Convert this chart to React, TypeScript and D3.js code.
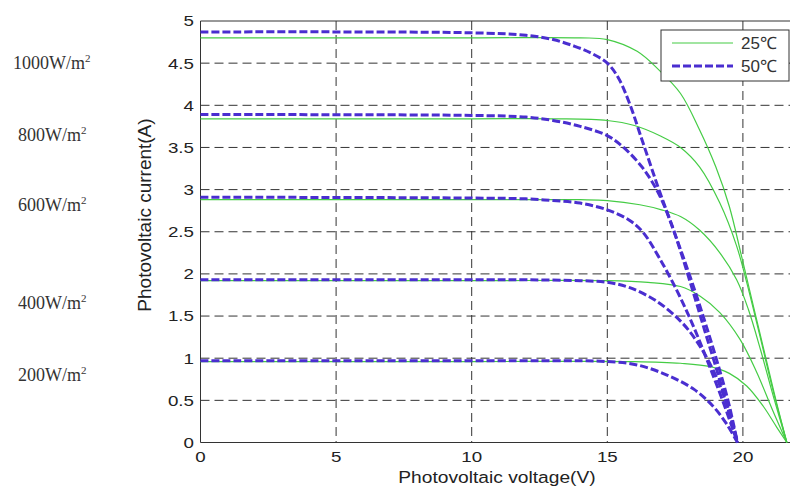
import * as d3 from "d3";

// irradiance levels (W/m2) written on the left
const irradiance = ["1000", "800", "600", "400", "200"];

// 25 C curves: voltage (V) and current (A)
const v25_1000 = [0, 10, 14, 15, 16.1, 16.9, 17.7, 18.4, 19.0, 19.5, 19.95, 20.4, 20.9, 21.25, 21.62];
const i25_1000 = [4.8, 4.8, 4.8, 4.78, 4.64, 4.42, 4.14, 3.71, 3.27, 2.8, 2.21, 1.6, 0.93, 0.46, 0];
const v25_800 = [0, 10, 13, 15, 16, 17, 17.7, 18.4, 19.15, 19.77, 20.14, 20.6, 21.1, 21.62];
const i25_800 = [3.84, 3.84, 3.84, 3.82, 3.76, 3.63, 3.5, 3.27, 2.84, 2.33, 1.9, 1.3, 0.63, 0];
const v25_600 = [0, 10, 14, 15, 16.2, 17, 17.7, 18.4, 19.15, 19.77, 20.2, 20.65, 21.12, 21.62];
const i25_600 = [2.88, 2.88, 2.88, 2.87, 2.82, 2.76, 2.68, 2.52, 2.25, 1.93, 1.58, 1.1, 0.55, 0];
const v25_400 = [0, 10, 15, 16.5, 17.7, 18.4, 19.15, 19.9, 20.5, 21.1, 21.62];
const i25_400 = [1.92, 1.92, 1.92, 1.9, 1.85, 1.74, 1.54, 1.22, 0.84, 0.38, 0];
const v25_200 = [0, 10, 16, 17.7, 18.8, 19.5, 20.14, 20.75, 21.25, 21.62];
const i25_200 = [0.96, 0.96, 0.96, 0.94, 0.9, 0.82, 0.67, 0.43, 0.18, 0];

// 50 C curves
const v50_1000 = [0, 10, 12, 13, 13.8, 14.4, 15, 15.4, 15.8, 16.3, 16.85, 17.35, 17.8, 18.25, 18.65, 19.05, 19.45, 19.8];
const i50_1000 = [4.87, 4.86, 4.83, 4.78, 4.7, 4.62, 4.5, 4.33, 4.04, 3.57, 3.05, 2.6, 2.2, 1.78, 1.38, 0.96, 0.5, 0];
const v50_800 = [0, 10, 12, 13, 14, 15, 15.6, 16.3, 16.85, 17.3, 17.75, 18.2, 18.6, 19.0, 19.4, 19.8];
const i50_800 = [3.89, 3.88, 3.86, 3.82, 3.75, 3.64, 3.5, 3.26, 2.98, 2.65, 2.22, 1.75, 1.32, 0.9, 0.46, 0];
const v50_600 = [0, 10, 12, 13, 14, 15, 15.8, 16.3, 16.9, 17.6, 18.2, 18.7, 19.25, 19.8];
const i50_600 = [2.91, 2.9, 2.89, 2.87, 2.84, 2.76, 2.64, 2.5, 2.2, 1.78, 1.36, 0.96, 0.5, 0];
const v50_400 = [0, 10, 12, 14, 15, 15.8, 16.8, 17.7, 18.3, 18.9, 19.4, 19.8];
const i50_400 = [1.93, 1.93, 1.93, 1.92, 1.9, 1.84, 1.68, 1.44, 1.2, 0.86, 0.46, 0];
const v50_200 = [0, 10, 13, 15, 16.1, 17.2, 18.2, 18.9, 19.4, 19.8];
const i50_200 = [0.97, 0.97, 0.97, 0.96, 0.92, 0.8, 0.63, 0.43, 0.22, 0];

const curves25 = [[v25_1000, i25_1000], [v25_800, i25_800], [v25_600, i25_600], [v25_400, i25_400], [v25_200, i25_200]];
const curves50 = [[v50_1000, i50_1000], [v50_800, i50_800], [v50_600, i50_600], [v50_400, i50_400], [v50_200, i50_200]];

const xTicks = [0, 5, 10, 15, 20];
const yTicks = [0, 0.5, 1, 1.5, 2, 2.5, 3, 3.5, 4, 4.5, 5];
const legendLabels = ["25℃", "50℃"];

const width = 790;
const height = 489;
const left = 200.5, top = 21, bottom = 442.5;

export default function App() {
  const x = d3.scaleLinear().domain([0, 22]).range([left, left + 22 * 27.12]);
  const y = d3.scaleLinear().domain([0, 5]).range([bottom, top]);
  const line = d3.line<[number, number]>().x(d => x(d[0])).y(d => y(d[1])).curve(d3.curveCatmullRom.alpha(0.5));
  const toPts = (c: number[][]) => c[0].map((v, i) => [v, c[1][i]] as [number, number]);
  const green = "#45cc45";
  const blue = "#4a2ed0";
  const axisCol = "#333";
  const sans = "'Liberation Sans', Arial, sans-serif";
  // vertical centre of each irradiance label
  const labelY = [63, 135, 205, 303, 375];

  return (
    <svg width={width} height={height} style={{ position: "absolute", left: 0, top: 0, background: "#fff" }}>
      {/* grid */}
      {yTicks.filter(t => t > 0 && t < 5).map(t => (
        <line key={"gy" + t} x1={left} x2={width} y1={y(t)} y2={y(t)} stroke={axisCol} strokeDasharray="9,5" />
      ))}
      {xTicks.filter(t => t > 0).map(t => (
        <line key={"gx" + t} x1={x(t)} x2={x(t)} y1={top} y2={bottom} stroke={axisCol} strokeDasharray="9,5" />
      ))}
      {/* frame */}
      <line x1={left} x2={width} y1={top} y2={top} stroke={axisCol} />
      <line x1={left} x2={width} y1={bottom} y2={bottom} stroke={axisCol} />
      <line x1={left} x2={left} y1={top} y2={bottom} stroke={axisCol} />
      {/* curves */}
      {curves25.map((c, i) => (
        <path key={"g" + i} d={line(toPts(c)) || ""} fill="none" stroke={green} strokeWidth={1.2} />
      ))}
      {curves50.map((c, i) => (
        <path key={"b" + i} d={line(toPts(c)) || ""} fill="none" stroke={blue} strokeWidth={3} strokeDasharray="8,3" />
      ))}
      {/* tick labels */}
      {yTicks.map(t => (
        <text key={"ty" + t} transform={`translate(194,${y(t)}) scale(1.25,1)`} dy="0.36em" textAnchor="end" fontFamily={sans} fontSize={15} fill="#222">{t}</text>
      ))}
      {xTicks.map(t => (
        <text key={"tx" + t} transform={`translate(${x(t)},462) scale(1.25,1)`} textAnchor="middle" fontFamily={sans} fontSize={15} fill="#222">{t}</text>
      ))}
      <text transform="translate(497,483) scale(1.13,1)" textAnchor="middle" fontFamily={sans} fontSize={17} fill="#222">Photovoltaic voltage(V)</text>
      <text transform="translate(151,215) rotate(-90)" textAnchor="middle" fontFamily={sans} fontSize={19} fill="#222">Photovoltaic current(A)</text>
      {/* irradiance labels */}
      {irradiance.map((s, i) => (
        <text key={"ir" + i} x={i === 0 ? 13 : 18} y={labelY[i]} dy="0.35em" fontFamily="'Liberation Serif', 'Times New Roman', serif" fontSize={18} fill="#333">
          {s}W/m<tspan dy="-7" fontSize={11}>2</tspan>
        </text>
      ))}
      {/* legend */}
      <rect x={661} y={30} width={128} height={51} fill="#fff" stroke={axisCol} />
      <line x1={672} x2={733} y1={43} y2={43} stroke={green} strokeWidth={1.2} />
      <line x1={672} x2={733} y1={66} y2={66} stroke={blue} strokeWidth={3} strokeDasharray="8,3" />
      {legendLabels.map((s, i) => (
        <text key={s} x={741} y={43 + i * 23} dy="0.36em" fontFamily={sans} fontSize={17} fill="#333">{s}</text>
      ))}
    </svg>
  );
}
